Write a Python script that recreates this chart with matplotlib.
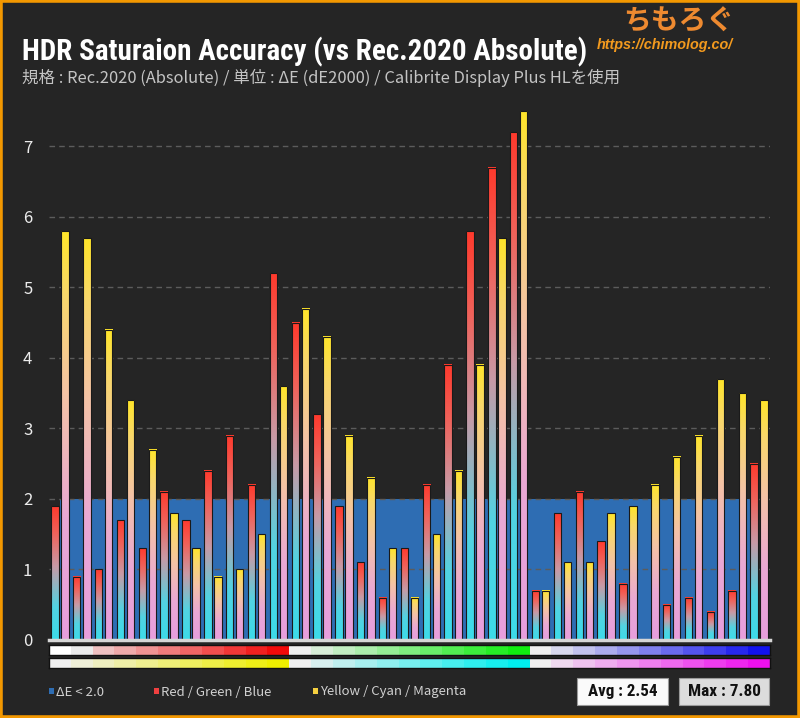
import numpy as np
import matplotlib
matplotlib.use('Agg')
import matplotlib.pyplot as plt
from matplotlib.colors import LinearSegmentedColormap, to_rgb
from matplotlib.patches import Rectangle
import warnings
warnings.filterwarnings('ignore')

# ---------------- data ----------------
steps = list(range(33))
rgb_de = [1.9, 0.9, 1.0, 1.7, 1.3, 2.1, 1.7, 2.4, 2.9, 2.2, 5.2,
          4.5, 3.2, 1.9, 1.1, 0.6, 1.3, 2.2, 3.9, 5.8, 6.7, 7.2,
          0.7, 1.8, 2.1, 1.4, 0.8, 0.0, 0.5, 0.6, 0.4, 0.7, 2.5]
ycm_de = [5.8, 5.7, 4.4, 3.4, 2.7, 1.8, 1.3, 0.9, 1.0, 1.5, 3.6,
          4.7, 4.3, 2.9, 2.3, 1.3, 0.6, 1.5, 2.4, 3.9, 5.7, 7.5,
          0.7, 1.1, 1.1, 1.8, 1.9, 2.2, 2.6, 2.9, 3.7, 3.5, 3.4]
threshold = 2.0
yticks = [0, 1, 2, 3, 4, 5, 6, 7]
avg_label = "Avg : 2.54"
max_label = "Max : 7.80"
title = "HDR Saturaion Accuracy (vs Rec.2020 Absolute)"
subtitle = "規格 : Rec.2020 (Absolute) / 単位 : ΔE (dE2000) / Calibrite Display Plus HLを使用"
legend_labels = ["ΔE < 2.0", "Red / Green / Blue", "Yellow / Cyan / Magenta"]

# ---------------- style ----------------
BG = '#252525'
BAND = '#2e6db3'
W, H = 800, 718
CJK = ['Noto Sans CJK JP', 'DejaVu Sans']
COND = ['Liberation Sans Narrow', 'Roboto Condensed', 'DejaVu Sans']


def fx(x):
    return x / W


def fy(y):
    return 1 - y / H


def mix(c, t, base='#efefef'):
    a = np.array(to_rgb(base))
    b = np.array(to_rgb(c))
    return tuple(a * (1 - t) + b * t)


ts = [i / 10 for i in range(11)]
strip_top = [to_rgb('#ffffff'), to_rgb('#ebebeb')] + [mix('#f20a0a', t) for t in ts[2:]] \
    + [mix('#10ee10', t) for t in ts] + [mix('#1212ee', t) for t in ts]
strip_bot = [mix('#eeee00', t) for t in ts] + [mix('#00eeee', t) for t in ts] \
    + [mix('#ee10ee', t) for t in ts]

cm_rgb = LinearSegmentedColormap.from_list(
    'rgb', [(0, '#3cdbe9'), (0.25, '#52d3e2'), (0.55, '#c89aa6'), (0.8, '#f0625a'), (1, '#ff3a2d')])
cm_ycm = LinearSegmentedColormap.from_list(
    'ycm', [(0, '#e79edd'), (0.3, '#eaa8d4'), (0.6, '#f4c3a6'), (0.85, '#f9d86a'), (1, '#ffe52a')])
grad = np.linspace(0, 1, 256).reshape(-1, 1)

fig = plt.figure(figsize=(W / 100, H / 100), dpi=100, facecolor=BG)
renderer = fig.canvas.get_renderer()


def fit(t, target):
    for _ in range(3):
        w = t.get_window_extent(renderer).width
        t.set_fontsize(t.get_fontsize() * target / w)


ax = fig.add_axes([fx(49), fy(640), fx(770) - fx(49), (640 - 90) / H])
ax.set_facecolor(BG)
x = np.array(steps)
ax.fill_between([x[0], x[-1]], 0, threshold, color=BAND, lw=0, zorder=1)
for yv in yticks[1:]:
    ax.axhline(yv, color='#5c5c5c', lw=1, ls=(0, (4, 3)), zorder=2)

bw, off = 0.34, 0.23
for vals, cmap, dx in [(rgb_de, cm_rgb, -off), (ycm_de, cm_ycm, off)]:
    bars = ax.bar(x + dx, vals, bw, color='none', edgecolor='#1a1a1a', lw=0.8, zorder=4)
    for patch, v in zip(bars, vals):
        if v <= 0:
            patch.set_visible(False)
            continue
        x0, w = patch.get_x(), patch.get_width()
        ax.imshow(grad, cmap=cmap, extent=[x0, x0 + w, 0, v], aspect='auto',
                  origin='lower', zorder=3, interpolation='bilinear')

ax.axhline(0, color='#d6d6d6', lw=2.5, zorder=5, clip_on=False)
ax.set_xlim(-0.5, 32.5)
ax.set_ylim(0, 7.8)
ax.set_xticks([])
ax.set_yticks(yticks)
ax.set_yticklabels([str(v) for v in yticks], color='#ececec', fontsize=12, family=CJK)
ax.tick_params(axis='y', length=0, pad=12)
for s in ax.spines.values():
    s.set_visible(False)

# colour strips
for (top, bot), cols in [((645, 655), strip_top), ((658, 668), strip_bot)]:
    sa = fig.add_axes([fx(49), fy(bot), fx(770) - fx(49), (bot - top) / H])
    sa.imshow(np.array([cols]), extent=[-0.5, 32.5, 0, 1], aspect='auto', interpolation='nearest')
    sa.set_xlim(-0.5, 32.5)
    sa.set_xticks([]); sa.set_yticks([])
    for s in sa.spines.values():
        s.set_color('#111111'); s.set_linewidth(1)

# legend
leg_cols = [BAND, '#f04040', '#f5d040']
leg_x = [49, 154, 313]
for lx, lc, lt in zip(leg_x, leg_cols, legend_labels):
    fig.add_artist(Rectangle((fx(lx), fy(694)), 5 / W, 6 / H, transform=fig.transFigure,
                             color=lc, lw=0))
    fig.text(fx(lx + 7), fy(692), lt, color='#d0d0d0', fontsize=9.5, family=CJK, va='center')

# summary boxes
for (x0, x1, fc, lab, tw) in [(577, 668, '#fafafa', avg_label, 70), (679, 769, '#dcdcdc', max_label, 73)]:
    fig.add_artist(Rectangle((fx(x0), fy(705)), (x1 - x0) / W, 27 / H, transform=fig.transFigure,
                             fc=fc, ec='#9a9a9a', lw=0.8))
    t = fig.text(fx((x0 + x1) / 2), fy(691.5), lab, color='#111111', fontsize=15, weight='bold',
                 family=COND, stretch='condensed', ha='center', va='center')
    fit(t, tw)

# titles
tt = fig.text(fx(22), fy(52), title, color='white', fontsize=22, weight='bold',
              family=COND, stretch='condensed', va='center')
fit(tt, 566)
st = fig.text(fx(22), fy(78), subtitle, color='#c4c4c4', fontsize=11, family=CJK, va='center')
fit(st, 598)

# logo text
fig.text(fx(679), fy(22), 'ちもろぐ', color='#ee8a30', fontsize=20, weight='bold',
         family=CJK, ha='center', va='center')
ut = fig.text(fx(665), fy(45), 'https://chimolog.co/', color='#f39a1e', fontsize=9.5,
              weight='bold', style='italic', family=['Liberation Sans', 'DejaVu Sans'],
              ha='center', va='center')
fit(ut, 136)

# frame
fig.add_artist(Rectangle((0, 0), 1, 1, transform=fig.transFigure, fill=False,
                         ec='#f39800', lw=4))

fig.savefig('out.png', dpi=100, facecolor=BG)
